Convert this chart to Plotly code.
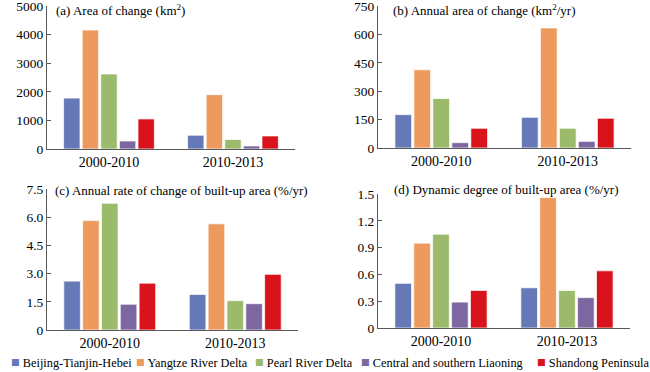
import plotly.graph_objects as go

periods = ["2000-2010", "2010-2013"]
regions = ["Beijing-Tianjin-Hebei", "Yangtze River Delta", "Pearl River Delta",
           "Central and southern Liaoning", "Shandong Peninsula"]
colors = ["#6479B5", "#EE9A5F", "#9BBA6B", "#7D67A0", "#D8131B"]

# values per region: [2000-2010, 2010-2013]
area_change = [[1780, 480], [4160, 1900], [2620, 330], [280, 105], [1050, 455]]
annual_area = [[176, 162], [413, 634], [261, 104], [28, 35], [104, 157]]
annual_rate = [[2.6, 1.89], [5.82, 5.65], [6.74, 1.56], [1.37, 1.40], [2.49, 2.96]]
dynamic_deg = [[0.50, 0.45], [0.95, 1.46], [1.05, 0.42], [0.29, 0.34], [0.42, 0.64]]

titles = ["(a) Area of change (km<sup>2</sup>)",
          "(b) Annual area of change (km<sup>2</sup>/yr)",
          "(c) Annual rate of change of built-up area (%/yr)",
          "(d) Dynamic degree of built-up area (%/yr)"]

ticks_a = [0, 1000, 2000, 3000, 4000, 5000]
ticks_b = [0, 150, 300, 450, 600, 750]
ticks_c = [0, 1.5, 3.0, 4.5, 6.0, 7.5]
ticks_c_text = ["0", "1.5", "3.0", "4.5", "6.0", "7.5"]
ticks_d = [0, 0.3, 0.6, 0.9, 1.2, 1.5]
ticks_d_text = ["0", "0.3", "0.6", "0.9", "1.2", "1.5"]

FONT = "Liberation Serif, Times New Roman, serif"
fig = go.Figure()

datasets = [area_change, annual_area, annual_rate, dynamic_deg]
for p, data in enumerate(datasets):
    xa = "x" if p == 0 else f"x{p+1}"
    ya = "y" if p == 0 else f"y{p+1}"
    for i, r in enumerate(regions):
        fig.add_trace(go.Bar(
            x=periods, y=data[i], name=r, xaxis=xa, yaxis=ya,
            marker=dict(color=colors[i], line=dict(color="rgba(255,255,255,0.7)", width=1)),
            showlegend=False))

domains = [
    ([0.0723, 0.4538], [0.5995, 0.9839]),
    ([0.5815, 0.9708], [0.6022, 0.9839]),
    ([0.0723, 0.4585], [0.1129, 0.4919]),
    ([0.5815, 0.9692], [0.1183, 0.4785]),
]
yticks = [(ticks_a, [str(t) for t in ticks_a], [0, 5000]),
          (ticks_b, [str(t) for t in ticks_b], [0, 750]),
          (ticks_c, ticks_c_text, [0, 7.5]),
          (ticks_d, ticks_d_text, [0, 1.5])]

axcol = "#595959"
layout = {}
for p in range(4):
    xk = "xaxis" if p == 0 else f"xaxis{p+1}"
    yk = "yaxis" if p == 0 else f"yaxis{p+1}"
    ya = "y" if p == 0 else f"y{p+1}"
    xa = "x" if p == 0 else f"x{p+1}"
    layout[xk] = dict(domain=domains[p][0], anchor=ya, showline=True, linecolor=axcol,
                      linewidth=1, ticks="", showgrid=False, zeroline=False,
                      tickfont=dict(family=FONT, size=14, color="black"),
                      automargin=False, fixedrange=True, ticklabeloverflow="allow")
    tv, tt, rng = yticks[p]
    layout[yk] = dict(domain=domains[p][1], anchor=xa, showline=True, linecolor=axcol,
                      linewidth=1, ticks="inside", ticklen=4, tickcolor=axcol,
                      tickvals=tv, ticktext=tt, range=rng, showgrid=False, zeroline=False,
                      tickfont=dict(family=FONT, size=13.5, color="black"),
                      automargin=False, fixedrange=True, ticklabeloverflow="allow")

fig.update_layout(**layout)

title_pos = [(0.03, 0.972), (0.053, 0.972), (0.022, 0.986), (0.054, 1.03)]
for p in range(4):
    xa = "x" if p == 0 else f"x{p+1}"
    ya = "y" if p == 0 else f"y{p+1}"
    fig.add_annotation(text=titles[p], xref=f"{xa} domain", yref=f"{ya} domain",
                       x=title_pos[p][0], y=title_pos[p][1], xanchor="left", yanchor="middle",
                       showarrow=False, font=dict(family=FONT, size=13, color="black"))

# legend row (text entries with coloured square key)
legend_x = [9, 134, 253, 359, 535]
for i, r in enumerate(regions):
    fig.add_annotation(text=f"<span style='color:{colors[i]};font-size:14.5px'>■</span> {r}",
                       xref="paper", yref="paper", x=legend_x[i] / 650, y=1 - 362 / 372,
                       xanchor="left", yanchor="middle", showarrow=False,
                       font=dict(family=FONT, size=12.3, color="black"))

fig.update_layout(
    width=650, height=372, margin=dict(l=0, r=0, t=0, b=0),
    paper_bgcolor="white", plot_bgcolor="white",
    barmode="group", bargap=0.25, bargroupgap=0.12,
    font=dict(family=FONT, color="black"),
    showlegend=False,
)

fig.write_html("out.html", config={"displayModeBar": False, "staticPlot": True},
               post_script="document.body.style.margin='0';document.body.style.overflow='hidden';")
